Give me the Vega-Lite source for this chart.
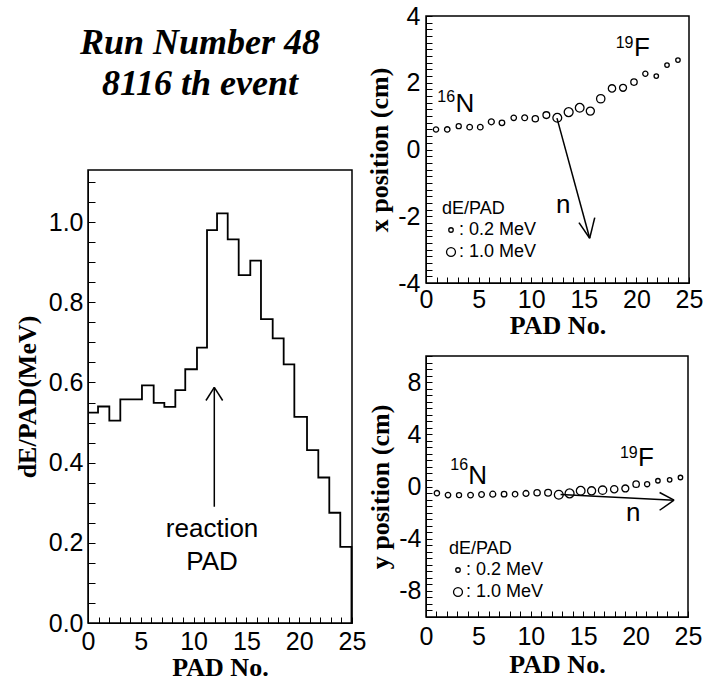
{
  "$schema": "https://vega.github.io/schema/vega-lite/v6.json",
  "background": "white",
  "padding": {"left": 13, "top": 3, "right": 0, "bottom": 0},
  "spacing": -1,
  "config": {
    "view": {"stroke": "black", "strokeWidth": 1.5},
    "font": "Liberation Sans",
    "axis": {
      "domainColor": "black",
      "labelFont": "Liberation Sans", "labelFontSize": 25, "labelColor": "black",
      "titleFont": "Liberation Serif", "titleFontSize": 26, "titleFontWeight": "bold", "titleColor": "black",
      "grid": false, "labelFlush": false, "labelOverlap": false, "tickCount": 100
    },
    "legend": {
      "titleFont": "Liberation Sans", "titleFontSize": 18, "titleFontWeight": "normal", "titleColor": "black",
      "labelFont": "Liberation Sans", "labelFontSize": 18, "labelColor": "black",
      "symbolStrokeColor": "black", "symbolStrokeWidth": 1.3, "symbolType": "circle",
      "padding": 0, "rowPadding": 4, "titlePadding": 3, "labelOffset": -1
    }
  },
  "hconcat": [
    {
      "spacing": 0,
      "vconcat": [
        {
          "width": 264,
          "height": 153,
          "view": {"stroke": null},
          "data": {"values": [{}]},
          "mark": {"type": "text", "text": ["Run Number 48", "8116 th event"], "font": "Liberation Serif", "fontSize": 36, "fontStyle": "italic", "fontWeight": "bold", "lineHeight": 41, "align": "center", "baseline": "alphabetic", "color": "black"},
          "encoding": {
            "x": {"datum": 0.424, "scale": {"domain": [0, 1]}, "axis": null},
            "y": {"datum": 0.75, "scale": {"domain": [0, 1]}, "axis": null}
          }
        },
        {
          "width": 264,
          "height": 453,
          "layer": [
            {
              "data": {"values": [
                {"edge": 0, "dE": 0.525},
                {"edge": 0.95, "dE": 0.54},
                {"edge": 2.02, "dE": 0.505},
                {"edge": 3.06, "dE": 0.558},
                {"edge": 4.07, "dE": 0.558},
                {"edge": 5.11, "dE": 0.593},
                {"edge": 6.22, "dE": 0.549},
                {"edge": 7.23, "dE": 0.539},
                {"edge": 8.27, "dE": 0.581},
                {"edge": 9.21, "dE": 0.633},
                {"edge": 10.32, "dE": 0.687},
                {"edge": 11.27, "dE": 0.98},
                {"edge": 12.22, "dE": 1.022},
                {"edge": 13.23, "dE": 0.957},
                {"edge": 14.27, "dE": 0.868},
                {"edge": 15.37, "dE": 0.904},
                {"edge": 16.38, "dE": 0.758},
                {"edge": 17.49, "dE": 0.71},
                {"edge": 18.53, "dE": 0.645},
                {"edge": 19.54, "dE": 0.514},
                {"edge": 20.74, "dE": 0.431},
                {"edge": 21.81, "dE": 0.363},
                {"edge": 22.85, "dE": 0.275},
                {"edge": 23.89, "dE": 0.19},
                {"edge": 24.95, "dE": 0}
              ]},
              "mark": {"type": "line", "interpolate": "step-after", "color": "black", "strokeWidth": 1.8},
              "encoding": {
                "x": {
                  "field": "edge", "type": "quantitative", "title": "PAD No.",
                  "scale": {"domain": [0, 25], "nice": false},
                  "axis": {
                    "values": [0,1,2,3,4,5,6,7,8,9,10,11,12,13,14,15,16,17,18,19,20,21,22,23,24,25],
                    "labelExpr": "datum.value % 5 === 0 ? '' + datum.value : null",
                    "tickCount": 100, "labelOverlap": false,
                    "ticks": true, "tickColor": "#000000", "tickWidth": 1, "tickOpacity": 1, "tickSize": -6,
                    "labelPadding": 12, "titlePadding": 0
                  }
                },
                "y": {
                  "field": "dE", "type": "quantitative", "title": "dE/PAD(MeV)",
                  "scale": {"domain": [0, 1.13], "nice": false},
                  "axis": {
                    "values": [0,0.05,0.1,0.15,0.2,0.25,0.3,0.35,0.4,0.45,0.5,0.55,0.6,0.65,0.7,0.75,0.8,0.85,0.9,0.95,1,1.05,1.1],
                    "labelExpr": "abs(datum.value*5 - round(datum.value*5)) < 0.001 ? format(datum.value, '.1f') : null",
                    "tickCount": 100, "labelOverlap": false,
                    "ticks": true, "tickColor": "#000000", "tickWidth": 1, "tickOpacity": 1, "tickSize": -7,
                    "labelPadding": 12, "titlePadding": 8
                  }
                }
              }
            },
            {
              "data": {"values": [{}]},
              "mark": {"type": "rule", "color": "black", "strokeWidth": 1.5},
              "encoding": {"x": {"datum": 11.96}, "y": {"datum": 0.588}, "x2": {"datum": 11.96}, "y2": {"datum": 0.29}}
            },
            {
              "data": {"values": [{}]},
              "mark": {"type": "rule", "color": "black", "strokeWidth": 1.5},
              "encoding": {"x": {"datum": 11.17}, "y": {"datum": 0.555}, "x2": {"datum": 11.96}, "y2": {"datum": 0.588}}
            },
            {
              "data": {"values": [{}]},
              "mark": {"type": "rule", "color": "black", "strokeWidth": 1.5},
              "encoding": {"x": {"datum": 12.75}, "y": {"datum": 0.555}, "x2": {"datum": 11.96}, "y2": {"datum": 0.588}}
            },
            {
              "data": {"values": [{}]},
              "mark": {"type": "text", "text": ["reaction", "PAD"], "lineHeight": 33, "fontSize": 26, "font": "Liberation Sans", "align": "center", "baseline": "alphabetic", "color": "black"},
              "encoding": {"x": {"datum": 11.75}, "y": {"datum": 0.215}}
            }
          ]
        }
      ]
    },
    {
      "spacing": 4,
      "resolve": {"scale": {"size": "independent"}, "legend": {"size": "independent"}},
      "vconcat": [
        {
          "width": 263,
          "height": 267,
          "layer": [
            {
              "data": {"values": [
                {"pad": 0.95, "xcm": 0.6, "dE": 0.525},
                {"pad": 2.02, "xcm": 0.6, "dE": 0.54},
                {"pad": 3.11, "xcm": 0.7, "dE": 0.505},
                {"pad": 4.15, "xcm": 0.67, "dE": 0.558},
                {"pad": 5.16, "xcm": 0.67, "dE": 0.558},
                {"pad": 6.21, "xcm": 0.83, "dE": 0.593},
                {"pad": 7.22, "xcm": 0.8, "dE": 0.549},
                {"pad": 8.34, "xcm": 0.95, "dE": 0.539},
                {"pad": 9.38, "xcm": 0.95, "dE": 0.581},
                {"pad": 10.39, "xcm": 0.92, "dE": 0.633},
                {"pad": 11.44, "xcm": 1.03, "dE": 0.687},
                {"pad": 12.48, "xcm": 0.95, "dE": 0.98},
                {"pad": 13.56, "xcm": 1.12, "dE": 1.022},
                {"pad": 14.61, "xcm": 1.25, "dE": 0.957},
                {"pad": 15.62, "xcm": 1.15, "dE": 0.868},
                {"pad": 16.61, "xcm": 1.52, "dE": 0.904},
                {"pad": 17.68, "xcm": 1.83, "dE": 0.758},
                {"pad": 18.73, "xcm": 1.85, "dE": 0.71},
                {"pad": 19.77, "xcm": 2.02, "dE": 0.645},
                {"pad": 20.85, "xcm": 2.27, "dE": 0.514},
                {"pad": 21.89, "xcm": 2.2, "dE": 0.431},
                {"pad": 22.91, "xcm": 2.53, "dE": 0.363},
                {"pad": 23.95, "xcm": 2.68, "dE": 0.275}
              ]},
              "mark": {"type": "point", "shape": "circle", "filled": false, "color": "black", "strokeWidth": 1.3, "opacity": 1},
              "encoding": {
                "x": {
                  "field": "pad", "type": "quantitative", "title": "PAD No.",
                  "scale": {"domain": [0, 25], "nice": false},
                  "axis": {
                    "values": [0,1,2,3,4,5,6,7,8,9,10,11,12,13,14,15,16,17,18,19,20,21,22,23,24,25],
                    "labelExpr": "datum.value % 5 === 0 ? '' + datum.value : null",
                    "tickCount": 100, "labelOverlap": false,
                    "ticks": true, "tickColor": "#000000", "tickWidth": 1, "tickOpacity": 1, "tickSize": -6,
                    "labelPadding": 10, "titlePadding": 0
                  }
                },
                "y": {
                  "field": "xcm", "type": "quantitative", "title": "x position (cm)",
                  "scale": {"domain": [-4, 4], "nice": false},
                  "axis": {
                    "values": [-4,-3.8,-3.6,-3.4,-3.2,-3,-2.8,-2.6,-2.4,-2.2,-2,-1.8,-1.6,-1.4,-1.2,-1,-0.8,-0.6,-0.4,-0.2,0,0.2,0.4,0.6,0.8,1,1.2,1.4,1.6,1.8,2,2.2,2.4,2.6,2.8,3,3.2,3.4,3.6,3.8,4],
                    "labelExpr": "abs(datum.value/2 - round(datum.value/2)) < 0.001 ? '' + round(datum.value) : null",
                    "tickCount": 100, "labelOverlap": false,
                    "ticks": true, "tickColor": "#000000", "tickWidth": 1, "tickOpacity": 1, "tickSize": -6,
                    "labelPadding": 12, "titlePadding": 5
                  }
                },
                "size": {
                  "field": "dE", "type": "quantitative",
                  "scale": {"domain": [0.45, 1.0], "range": [20, 80], "clamp": true, "zero": false},
                  "legend": {
                    "title": "dE/PAD", "orient": "none", "legendX": 16, "legendY": 184, "values": [0.2, 1.0],
                    "labelExpr": "': ' + format(datum.value, '.1f') + ' MeV'"
                  }
                }
              }
            },
            {
              "data": {"values": [{}]},
              "mark": {"type": "rule", "color": "black", "strokeWidth": 1.5},
              "encoding": {"x": {"datum": 12.45}, "y": {"datum": 0.94}, "x2": {"datum": 15.56}, "y2": {"datum": -2.66}}
            },
            {
              "data": {"values": [{}]},
              "mark": {"type": "rule", "color": "black", "strokeWidth": 1.5},
              "encoding": {"x": {"datum": 14.54}, "y": {"datum": -2.19}, "x2": {"datum": 15.56}, "y2": {"datum": -2.66}}
            },
            {
              "data": {"values": [{}]},
              "mark": {"type": "rule", "color": "black", "strokeWidth": 1.5},
              "encoding": {"x": {"datum": 16.04}, "y": {"datum": -2.04}, "x2": {"datum": 15.56}, "y2": {"datum": -2.66}}
            },
            {
              "data": {"values": [{}]},
              "mark": {"type": "text", "text": "16", "fontSize": 16, "font": "Liberation Sans", "align": "right", "baseline": "alphabetic", "color": "black"},
              "encoding": {"x": {"datum": 2.76}, "y": {"datum": 1.41}}
            },
            {
              "data": {"values": [{}]},
              "mark": {"type": "text", "text": "N", "fontSize": 26, "font": "Liberation Sans", "align": "left", "baseline": "alphabetic", "color": "black"},
              "encoding": {"x": {"datum": 2.8}, "y": {"datum": 1.11}}
            },
            {
              "data": {"values": [{}]},
              "mark": {"type": "text", "text": "19", "fontSize": 16, "font": "Liberation Sans", "align": "right", "baseline": "alphabetic", "color": "black"},
              "encoding": {"x": {"datum": 19.72}, "y": {"datum": 3.04}}
            },
            {
              "data": {"values": [{}]},
              "mark": {"type": "text", "text": "F", "fontSize": 26, "font": "Liberation Sans", "align": "left", "baseline": "alphabetic", "color": "black"},
              "encoding": {"x": {"datum": 19.77}, "y": {"datum": 2.8}}
            },
            {
              "data": {"values": [{}]},
              "mark": {"type": "text", "text": "n", "fontSize": 26, "font": "Liberation Sans", "align": "left", "baseline": "alphabetic", "color": "black"},
              "encoding": {"x": {"datum": 12.36}, "y": {"datum": -1.9}}
            }
          ]
        },
        {
          "width": 262,
          "height": 261,
          "layer": [
            {
              "data": {"values": [
                {"pad": 1.04, "ycm": -0.51, "dE": 0.525},
                {"pad": 2.1, "ycm": -0.66, "dE": 0.54},
                {"pad": 3.15, "ycm": -0.66, "dE": 0.505},
                {"pad": 4.25, "ycm": -0.66, "dE": 0.558},
                {"pad": 5.3, "ycm": -0.61, "dE": 0.558},
                {"pad": 6.37, "ycm": -0.59, "dE": 0.593},
                {"pad": 7.45, "ycm": -0.59, "dE": 0.549},
                {"pad": 8.5, "ycm": -0.59, "dE": 0.539},
                {"pad": 9.54, "ycm": -0.53, "dE": 0.581},
                {"pad": 10.6, "ycm": -0.48, "dE": 0.633},
                {"pad": 11.65, "ycm": -0.48, "dE": 0.687},
                {"pad": 12.67, "ycm": -0.63, "dE": 0.98},
                {"pad": 13.7, "ycm": -0.53, "dE": 1.022},
                {"pad": 14.76, "ycm": -0.33, "dE": 0.957},
                {"pad": 15.8, "ycm": -0.33, "dE": 0.868},
                {"pad": 16.85, "ycm": -0.28, "dE": 0.904},
                {"pad": 17.96, "ycm": -0.21, "dE": 0.758},
                {"pad": 19.02, "ycm": -0.15, "dE": 0.71},
                {"pad": 20.05, "ycm": 0.18, "dE": 0.645},
                {"pad": 21.1, "ycm": 0.18, "dE": 0.514},
                {"pad": 22.13, "ycm": 0.44, "dE": 0.431},
                {"pad": 23.25, "ycm": 0.51, "dE": 0.363},
                {"pad": 24.28, "ycm": 0.69, "dE": 0.275}
              ]},
              "mark": {"type": "point", "shape": "circle", "filled": false, "color": "black", "strokeWidth": 1.3, "opacity": 1},
              "encoding": {
                "x": {
                  "field": "pad", "type": "quantitative", "title": "PAD No.",
                  "scale": {"domain": [0, 25], "nice": false},
                  "axis": {
                    "values": [0,1,2,3,4,5,6,7,8,9,10,11,12,13,14,15,16,17,18,19,20,21,22,23,24,25],
                    "labelExpr": "datum.value % 5 === 0 ? '' + datum.value : null",
                    "tickCount": 100, "labelOverlap": false,
                    "ticks": true, "tickColor": "#000000", "tickWidth": 1, "tickOpacity": 1, "tickSize": -6,
                    "labelPadding": 13, "titlePadding": 2
                  }
                },
                "y": {
                  "field": "ycm", "type": "quantitative", "title": "y position (cm)",
                  "scale": {"domain": [-10, 10], "nice": false},
                  "axis": {
                    "values": [-10,-9.5,-9,-8.5,-8,-7.5,-7,-6.5,-6,-5.5,-5,-4.5,-4,-3.5,-3,-2.5,-2,-1.5,-1,-0.5,0,0.5,1,1.5,2,2.5,3,3.5,4,4.5,5,5.5,6,6.5,7,7.5,8,8.5,9,9.5,10],
                    "labelExpr": "abs(datum.value/4 - round(datum.value/4)) < 0.001 && abs(datum.value) < 9 ? '' + round(datum.value) : null",
                    "tickCount": 100, "labelOverlap": false,
                    "ticks": true, "tickColor": "#000000", "tickWidth": 1, "tickOpacity": 1, "tickSize": -6,
                    "labelPadding": 11, "titlePadding": 5
                  }
                },
                "size": {
                  "field": "dE", "type": "quantitative",
                  "scale": {"domain": [0.45, 1.0], "range": [20, 80], "clamp": true, "zero": false},
                  "legend": {
                    "title": "dE/PAD", "orient": "none", "legendX": 23, "legendY": 184, "values": [0.2, 1.0],
                    "labelExpr": "': ' + format(datum.value, '.1f') + ' MeV'"
                  }
                }
              }
            },
            {
              "data": {"values": [{}]},
              "mark": {"type": "rule", "color": "black", "strokeWidth": 1.5},
              "encoding": {"x": {"datum": 12.84}, "y": {"datum": -0.61}, "x2": {"datum": 23.67}, "y2": {"datum": -1.05}}
            },
            {
              "data": {"values": [{}]},
              "mark": {"type": "rule", "color": "black", "strokeWidth": 1.5},
              "encoding": {"x": {"datum": 22.29}, "y": {"datum": -0.46}, "x2": {"datum": 23.67}, "y2": {"datum": -1.05}}
            },
            {
              "data": {"values": [{}]},
              "mark": {"type": "rule", "color": "black", "strokeWidth": 1.5},
              "encoding": {"x": {"datum": 22.29}, "y": {"datum": -1.82}, "x2": {"datum": 23.67}, "y2": {"datum": -1.05}}
            },
            {
              "data": {"values": [{}]},
              "mark": {"type": "text", "text": "16", "fontSize": 16, "font": "Liberation Sans", "align": "right", "baseline": "alphabetic", "color": "black"},
              "encoding": {"x": {"datum": 4.02}, "y": {"datum": 1.26}}
            },
            {
              "data": {"values": [{}]},
              "mark": {"type": "text", "text": "N", "fontSize": 26, "font": "Liberation Sans", "align": "left", "baseline": "alphabetic", "color": "black"},
              "encoding": {"x": {"datum": 4.04}, "y": {"datum": 0.18}}
            },
            {
              "data": {"values": [{}]},
              "mark": {"type": "text", "text": "19", "fontSize": 16, "font": "Liberation Sans", "align": "right", "baseline": "alphabetic", "color": "black"},
              "encoding": {"x": {"datum": 20.2}, "y": {"datum": 2.22}}
            },
            {
              "data": {"values": [{}]},
              "mark": {"type": "text", "text": "F", "fontSize": 26, "font": "Liberation Sans", "align": "left", "baseline": "alphabetic", "color": "black"},
              "encoding": {"x": {"datum": 20.24}, "y": {"datum": 1.59}}
            },
            {
              "data": {"values": [{}]},
              "mark": {"type": "text", "text": "n", "fontSize": 26, "font": "Liberation Sans", "align": "left", "baseline": "alphabetic", "color": "black"},
              "encoding": {"x": {"datum": 19.09}, "y": {"datum": -2.63}}
            }
          ]
        }
      ]
    }
  ]
}
